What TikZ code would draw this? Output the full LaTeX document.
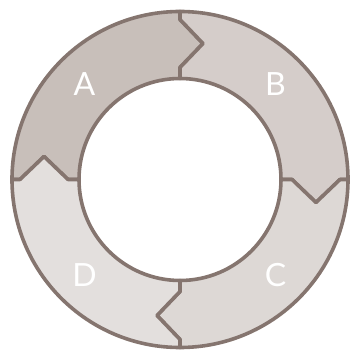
\documentclass[tikz,border=0pt]{standalone}
\usepackage{fontspec}
\setmainfont{Lato}
\definecolor{segA}{HTML}{C8BFBA}
\definecolor{segB}{HTML}{D5CDCA}
\definecolor{segC}{HTML}{DDD8D5}
\definecolor{segD}{HTML}{E3DFDD}
\definecolor{edge}{HTML}{85756F}
\tikzset{
  seg/.style={draw=edge, line width=3.6pt, line join=round},
  lbl/.style={text=white, font=\fontsize{32}{32}\selectfont, inner sep=0pt}
}
\begin{document}
\begin{tikzpicture}[x=1pt,y=1pt]
\useasboundingbox (-180,-170.5) rectangle (169,179.5);
\foreach \s/\e/\c in {180/90/segA, 90/0/segB, 0/-90/segC, -90/-180/segD}{
  \pgfmathsetmacro{\ea}{\e-9.6}
  \pgfmathsetmacro{\sa}{\s-9.6}
  \path[seg, fill=\c] (\e:101) -- (\e:112) -- (\ea:137.9) -- (\e:160) -- (\e:168)
    arc[start angle=\e, end angle=\s, radius=168]
    -- (\s:160) -- (\sa:137.9) -- (\s:112) -- (\s:101)
    arc[start angle=\s, end angle=\e, radius=101] -- cycle;
}
\node[lbl] (A) at (135:135) {A};
\node[lbl] (B) at (45:135) {B};
\node[lbl] (C) at (-45:135) {C};
\node[lbl] (D) at (-135:135) {D};
\end{tikzpicture}
\end{document}
